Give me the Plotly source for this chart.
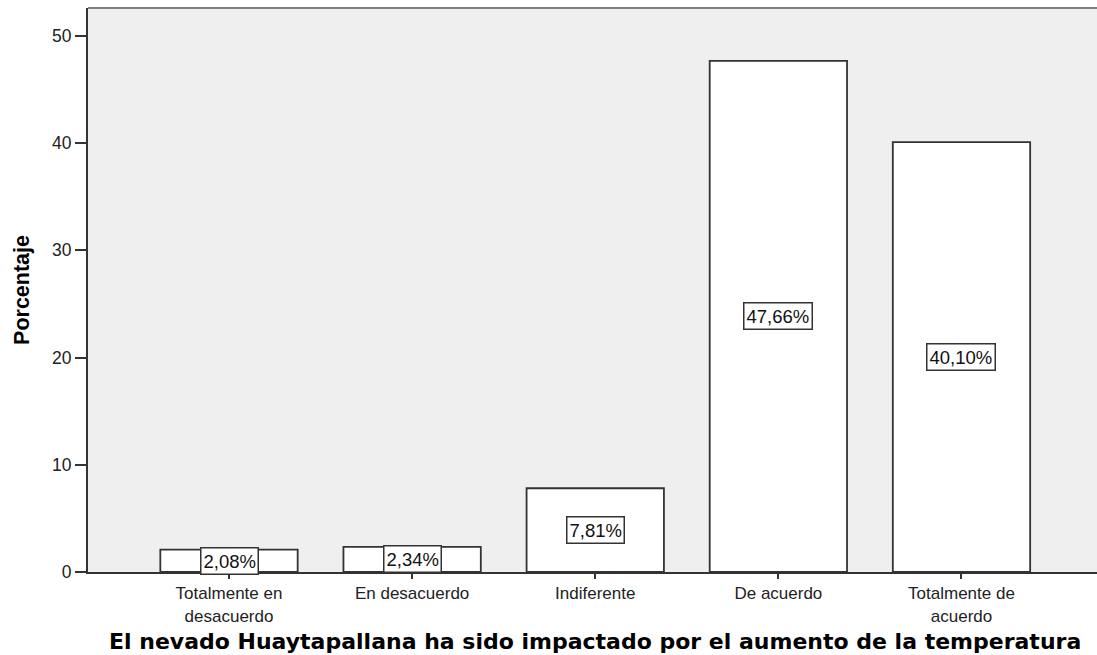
import plotly.graph_objects as go

categorias = ["Totalmente en<br>desacuerdo", "En desacuerdo", "Indiferente",
              "De acuerdo", "Totalmente de<br>acuerdo"]
porcentajes = [2.08, 2.34, 7.81, 47.66, 40.10]
etiquetas = ["2,08%", "2,34%", "7,81%", "47,66%", "40,10%"]
y_ticks = [0, 10, 20, 30, 40, 50]

x_pos = list(range(len(categorias)))

fig = go.Figure()

fig.add_trace(go.Bar(
    x=x_pos, y=porcentajes, width=0.75,
    marker=dict(color="white", line=dict(color="#333333", width=1.8)),
    hoverinfo="skip", showlegend=False
))

# etiquetas al centro de cada barra (estilo SPSS)
for xi, v, t in zip(x_pos, porcentajes, etiquetas):
    fig.add_annotation(
        x=xi, y=v / 2, text=t, showarrow=False,
        font=dict(family="Liberation Sans, Arial", size=18.5, color="#111111"),
        bgcolor="white", bordercolor="#333333", borderwidth=1.5, borderpad=2
    )

fig.add_annotation(
    x=0.5025, y=-0.124, xref="paper", yref="paper",
    text="<b>El nevado Huaytapallana ha sido impactado por el aumento de la temperatura</b>",
    showarrow=False, xanchor="center", yanchor="middle",
    font=dict(family="DejaVu Sans", size=22, color="#000000")
)

fig.update_layout(
    width=1097, height=655,
    margin=dict(l=88, r=0, t=8, b=83),
    paper_bgcolor="white", plot_bgcolor="#efefef",
    font=dict(family="Liberation Sans, Arial", size=17, color="#222222"),
    xaxis=dict(
        range=[-0.77, 4.74], tickvals=x_pos, ticktext=categorias,
        ticks="outside", ticklen=5, tickcolor="#333333", tickwidth=2,
        showline=True, linecolor="#333333", linewidth=2,
        showgrid=False, zeroline=False,
        tickfont=dict(size=17, color="#222222")
    ),
    yaxis=dict(
        range=[0, 52.6], tickvals=y_ticks,
        ticks="outside", ticklen=11, tickcolor="#333333", tickwidth=2,
        showline=True, linecolor="#333333", linewidth=2,
        showgrid=False, zeroline=False,
        tickfont=dict(size=17.5, color="#222222"),
        title=dict(text="<b>Porcentaje</b>", standoff=17,
                   font=dict(family="Liberation Sans, Arial", size=21.5, color="#000000"))
    ),
)

# borde superior gris del área de gráfico
fig.add_shape(type="line", xref="paper", yref="paper", x0=0, x1=1, y0=1, y1=1,
              line=dict(color="#808080", width=2))

# sin margen del body para que la figura ocupe toda la ventana
fig.write_html("out.html", config={"displayModeBar": False},
               post_script="document.body.style.margin='0';")
